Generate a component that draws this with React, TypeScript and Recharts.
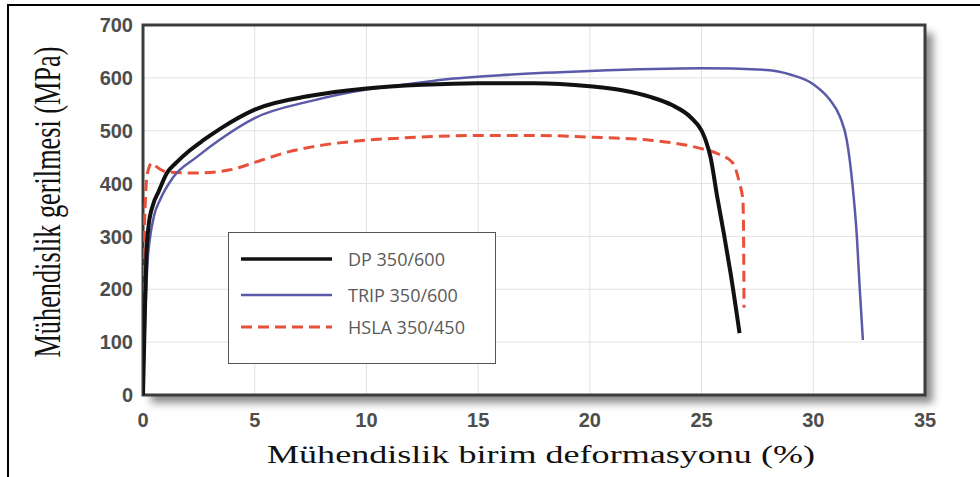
import { LineChart, Line, XAxis, YAxis, CartesianGrid, ReferenceArea, Legend, Label } from "recharts";

const xTicks = [0, 5, 10, 15, 20, 25, 30, 35];
const yTicks = [0, 100, 200, 300, 400, 500, 600, 700];

const seriesNames = ["DP 350/600", "TRIP 350/600", "HSLA 350/450"];

const dpStrain = [0, 0.08, 0.15, 0.25, 0.45, 0.7, 1.07, 1.5, 2.1, 2.7, 3.5, 5, 7.5, 10, 12.5, 15, 17.5, 20, 21.5, 22.7, 23.7, 24.5, 25.0, 25.2, 25.4, 25.7, 26.0, 26.3, 26.7];
const dpStress = [0, 150, 260, 320, 360, 385, 420, 440, 463, 482, 505, 540, 566, 580, 587, 590, 590, 584, 576, 564, 548, 526, 500, 480, 450, 375, 305, 230, 117];

const tripStrain = [0, 0.1, 0.2, 0.3, 0.5, 0.76, 1.35, 2.4, 3.4, 5, 7.5, 10, 11.5, 13.5, 16, 20, 25, 27.9, 29.0, 30.0, 30.75, 31.2, 31.5, 31.75, 31.95, 32.08, 32.22];
const tripStress = [0, 150, 250, 293, 340, 369, 412, 450, 482, 524, 556, 578, 586, 597, 605, 613, 618, 615, 606, 588, 558, 526, 482, 400, 300, 200, 104];

const hslaStrain = [0, 0.03, 0.06, 0.1, 0.2, 0.4, 0.6, 1.07, 2.4, 3.9, 5, 6.5, 7.5, 10, 11.5, 15, 17.5, 20, 22.7, 24.9, 25.8, 26.4, 26.7, 26.85, 26.88, 26.9];
const hslaStress = [0, 150, 300, 360, 420, 439, 432, 422, 420, 426, 440, 460, 469, 482, 486, 491, 491, 488, 482, 467, 455, 439, 400, 369, 300, 165];

const toPoints = (xs: number[], ys: number[]) => xs.map((x, i) => ({ x, y: ys[i] }));

const dpData = toPoints(dpStrain, dpStress);
const tripData = toPoints(tripStrain, tripStress);
const hslaData = toPoints(hslaStrain, hslaStress);

const lineStyles = [
  { stroke: "#111111", width: 4, dash: undefined as string | undefined },
  { stroke: "#5a5aa8", width: 2.5, dash: undefined as string | undefined },
  { stroke: "#e8503a", width: 3, dash: "11 6" },
];

function YTitle() {
  return (
    <text
      transform="translate(60,202) scale(1.45,1) rotate(-90)"
      textAnchor="middle"
      fontFamily="'Liberation Serif', serif"
      fontSize={26}
      fill="#111"
      textLength={311}
      lengthAdjust="spacingAndGlyphs"
    >
      Mühendislik gerilmesi (MPa)
    </text>
  );
}

function XTitle() {
  return (
    <text
      x={541}
      y={463}
      textAnchor="middle"
      fontFamily="'Liberation Serif', serif"
      fontSize={26}
      fill="#111"
      textLength={548}
      lengthAdjust="spacingAndGlyphs"
    >
      Mühendislik birim deformasyonu (%)
    </text>
  );
}

function LegendBox() {
  return (
    <div
      style={{
        width: 266,
        height: 130,
        border: "1.5px solid #555",
        background: "#fff",
        position: "relative",
      }}
    >
      {seriesNames.map((name, i) => (
        <div
          key={name}
          style={{
            position: "absolute",
            left: 10,
            top: [13, 49, 81][i],
            display: "flex",
            alignItems: "center",
          }}
        >
          <svg width={95} height={26}>
            <line
              x1={2}
              x2={93}
              y1={13}
              y2={13}
              stroke={lineStyles[i].stroke}
              strokeWidth={i === 0 ? 3.5 : lineStyles[i].width}
              strokeDasharray={lineStyles[i].dash}
            />
          </svg>
          <span
            style={{
              marginLeft: 14,
              fontFamily: "'Open Sans', sans-serif",
              fontSize: 18,
              color: "#5a5a5a",
              lineHeight: "26px",
            }}
          >
            {name}
          </span>
        </div>
      ))}
    </div>
  );
}

const tickStyle = {
  fontFamily: "'Liberation Sans', Arial, sans-serif",
  fontSize: 20,
  fontWeight: 700,
  fill: "#4d4d4d",
};

export default function App() {
  return (
    <div style={{ position: "absolute", left: 0, top: 0, width: 980, height: 477, overflow: "hidden", background: "#fff" }}>
      {/* outer black frame */}
      <div style={{ position: "absolute", left: 7, top: 4, width: 1000, height: 500, border: "2px solid #000" }} />
      {/* plot panel with shadow */}
      <div
        style={{
          position: "absolute",
          left: 143,
          top: 25,
          width: 782,
          height: 370,
          background: "#fff",
          boxShadow: "8px 8px 8px rgba(0,0,0,0.45)",
        }}
      />
      <div style={{ position: "absolute", left: 0, top: 0 }}>
        <LineChart width={980} height={477} margin={{ top: 25, right: 55, bottom: 52, left: 83 }}>
          <CartesianGrid stroke="#e2e2e2" strokeWidth={1} />
          <XAxis
            type="number"
            dataKey="x"
            domain={[0, 35]}
            ticks={xTicks}
            height={30}
            axisLine={false}
            tickLine={false}
            tickSize={0}
            tickMargin={18}
            tick={tickStyle}
            allowDataOverflow
          >
            <Label content={<XTitle />} />
          </XAxis>
          <YAxis
            type="number"
            domain={[0, 700]}
            ticks={yTicks}
            width={60}
            axisLine={false}
            tickLine={false}
            tickSize={0}
            tickMargin={10}
            tick={tickStyle}
            allowDataOverflow
          >
            <Label content={<YTitle />} />
          </YAxis>
          <Line
            data={hslaData}
            dataKey="y"
            name={seriesNames[2]}
            type="monotone"
            stroke={lineStyles[2].stroke}
            strokeWidth={lineStyles[2].width}
            strokeDasharray={lineStyles[2].dash}
            dot={false}
            activeDot={false}
            isAnimationActive={false}
          />
          <Line
            data={tripData}
            dataKey="y"
            name={seriesNames[1]}
            type="monotone"
            stroke={lineStyles[1].stroke}
            strokeWidth={lineStyles[1].width}
            dot={false}
            activeDot={false}
            isAnimationActive={false}
          />
          <Line
            data={dpData}
            dataKey="y"
            name={seriesNames[0]}
            type="monotone"
            stroke={lineStyles[0].stroke}
            strokeWidth={lineStyles[0].width}
            dot={false}
            activeDot={false}
            isAnimationActive={false}
          />
          <ReferenceArea x1={0} x2={35} y1={0} y2={700} fill="none" stroke="#3c3c3c" strokeWidth={3} ifOverflow="visible" />
          <Legend
            layout="vertical"
            align="center"
            verticalAlign="middle"
            content={<LegendBox />}
            wrapperStyle={{ position: "absolute", left: 228, top: 232, width: 269, height: 133 }}
          />
        </LineChart>
      </div>
    </div>
  );
}
